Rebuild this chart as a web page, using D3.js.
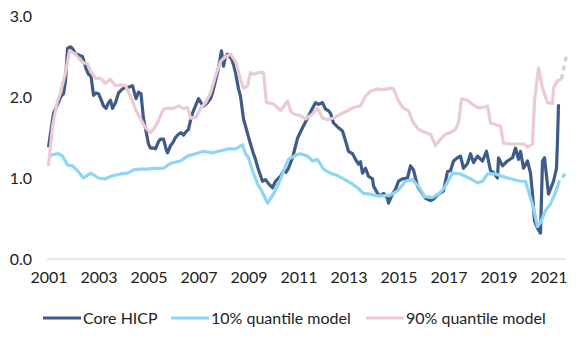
<!DOCTYPE html>
<html>
<head>
<meta charset="utf-8">
<script src="https://cdn.jsdelivr.net/npm/d3@7"></script>
<style>
  html, body { margin: 0; padding: 0; background: #fff; }
  svg { display: block; font-family: Lato, "Open Sans", sans-serif; }
</style>
</head>
<body>
<svg id="chart" width="587" height="346"></svg>
<script>
// ---- data (decimal year, value in %) ----
const coreHICP = [
  [2001.0,1.38],[2001.08,1.55],[2001.2,1.8],[2001.35,1.9],[2001.5,2.01],[2001.6,2.04],[2001.68,2.2],
  [2001.76,2.6],[2001.88,2.62],[2001.96,2.6],[2002.08,2.53],[2002.2,2.52],[2002.36,2.5],[2002.5,2.35],
  [2002.6,2.28],[2002.7,2.26],[2002.8,2.02],[2002.9,2.05],[2003.0,2.04],[2003.1,1.97],[2003.2,1.89],
  [2003.3,1.86],[2003.4,1.93],[2003.48,1.96],[2003.56,1.86],[2003.68,1.93],[2003.8,2.05],[2003.96,2.1],
  [2004.1,2.12],[2004.2,2.12],[2004.36,2.14],[2004.5,1.98],[2004.6,2.06],[2004.7,2.04],[2004.8,1.73],
  [2004.9,1.58],[2005.0,1.42],[2005.08,1.37],[2005.2,1.37],[2005.28,1.36],[2005.4,1.45],[2005.48,1.48],
  [2005.6,1.48],[2005.7,1.36],[2005.76,1.31],[2005.88,1.4],[2005.96,1.43],[2006.08,1.5],[2006.2,1.54],
  [2006.3,1.56],[2006.4,1.53],[2006.5,1.57],[2006.6,1.6],[2006.7,1.74],[2006.76,1.8],[2006.88,1.89],
  [2007.0,1.98],[2007.1,1.93],[2007.2,1.89],[2007.36,1.93],[2007.48,1.98],[2007.56,2.05],[2007.68,2.2],
  [2007.76,2.3],[2007.85,2.45],[2007.92,2.57],[2008.0,2.38],[2008.08,2.5],[2008.16,2.53],[2008.24,2.5],
  [2008.32,2.47],[2008.4,2.4],[2008.48,2.3],[2008.6,2.1],[2008.68,2.01],[2008.8,1.73],[2008.96,1.55],
  [2009.08,1.42],[2009.2,1.3],[2009.28,1.23],[2009.4,1.1],[2009.56,0.96],[2009.68,0.98],[2009.8,0.93],
  [2009.9,0.9],[2009.96,0.88],[2010.08,0.96],[2010.2,1.0],[2010.28,1.02],[2010.4,1.09],[2010.5,1.07],
  [2010.6,1.12],[2010.76,1.25],[2010.96,1.49],[2011.16,1.62],[2011.36,1.74],[2011.56,1.86],[2011.68,1.93],
  [2011.8,1.91],[2011.96,1.93],[2012.08,1.85],[2012.2,1.83],[2012.28,1.8],[2012.4,1.68],[2012.6,1.62],
  [2012.76,1.58],[2012.88,1.46],[2013.0,1.33],[2013.16,1.3],[2013.28,1.23],[2013.4,1.17],[2013.48,1.2],
  [2013.56,1.06],[2013.68,1.12],[2013.8,1.02],[2013.96,0.99],[2014.0,0.9],[2014.16,0.81],[2014.28,0.78],
  [2014.4,0.81],[2014.56,0.75],[2014.6,0.69],[2014.76,0.8],[2014.88,0.86],[2015.0,0.96],[2015.16,0.99],
  [2015.36,1.0],[2015.48,1.15],[2015.6,1.1],[2015.76,0.9],[2015.88,0.84],[2016.08,0.75],[2016.28,0.72],
  [2016.4,0.74],[2016.6,0.8],[2016.8,0.84],[2016.96,1.08],[2017.08,1.09],[2017.2,1.21],[2017.36,1.25],
  [2017.48,1.27],[2017.6,1.12],[2017.76,1.18],[2017.88,1.3],[2018.0,1.19],[2018.16,1.27],[2018.36,1.21],
  [2018.52,1.33],[2018.68,1.09],[2018.8,1.07],[2018.96,1.0],[2019.0,1.25],[2019.16,1.15],[2019.36,1.21],
  [2019.56,1.25],[2019.68,1.37],[2019.8,1.23],[2019.88,1.33],[2020.0,1.12],[2020.16,1.21],[2020.28,1.06],
  [2020.36,0.8],[2020.44,0.47],[2020.56,0.38],[2020.68,0.32],[2020.76,1.21],[2020.84,1.25],[2021.0,0.8],
  [2021.2,0.96],[2021.32,1.12],[2021.36,1.46],[2021.4,1.91]
];

const q10Model = [
  [2001.0,1.27],[2001.2,1.29],[2001.4,1.3],[2001.56,1.27],[2001.76,1.16],[2001.96,1.15],[2002.16,1.09],
  [2002.4,1.0],[2002.68,1.06],[2003.0,1.0],[2003.28,0.99],[2003.48,1.02],[2003.88,1.05],[2004.16,1.06],
  [2004.4,1.1],[2004.68,1.11],[2004.96,1.11],[2005.2,1.12],[2005.6,1.12],[2005.88,1.18],[2006.28,1.21],
  [2006.56,1.27],[2006.88,1.3],[2007.2,1.33],[2007.56,1.31],[2007.8,1.33],[2008.2,1.36],[2008.48,1.36],
  [2008.76,1.41],[2008.88,1.3],[2009.0,1.25],[2009.16,1.09],[2009.36,0.93],[2009.56,0.82],[2009.76,0.69],
  [2010.0,0.8],[2010.28,0.98],[2010.4,1.09],[2010.6,1.23],[2010.88,1.28],[2011.08,1.3],[2011.36,1.27],
  [2011.56,1.21],[2011.76,1.23],[2012.0,1.11],[2012.28,1.06],[2012.56,1.03],[2012.8,0.99],[2013.08,0.94],
  [2013.36,0.88],[2013.6,0.81],[2013.88,0.8],[2014.16,0.78],[2014.4,0.78],[2014.68,0.79],[2014.96,0.84],
  [2015.28,0.96],[2015.56,0.98],[2015.84,0.88],[2016.04,0.77],[2016.36,0.76],[2016.6,0.8],[2016.84,0.88],
  [2017.16,1.06],[2017.48,1.05],[2017.88,0.99],[2018.16,0.94],[2018.36,0.96],[2018.56,1.05],[2018.88,1.05],
  [2019.16,1.02],[2019.48,0.99],[2019.88,0.96],[2020.08,0.96],[2020.2,0.84],[2020.4,0.63],[2020.56,0.4],
  [2020.68,0.45],[2020.88,0.6],[2021.08,0.68],[2021.28,0.82],[2021.44,0.97]
];
const q10Forecast = [[2021.44,0.97],[2021.72,1.07]];

const q90Model = [
  [2001.0,1.15],[2001.16,1.64],[2001.36,1.95],[2001.48,2.05],[2001.68,2.3],[2001.84,2.57],[2001.96,2.55],
  [2002.08,2.53],[2002.2,2.48],[2002.4,2.42],[2002.56,2.41],[2002.68,2.32],[2002.88,2.23],[2003.08,2.23],
  [2003.28,2.17],[2003.48,2.22],[2003.68,2.14],[2003.88,2.15],[2004.08,2.14],[2004.28,2.01],[2004.48,1.85],
  [2004.68,1.73],[2004.88,1.62],[2005.08,1.56],[2005.2,1.6],[2005.36,1.68],[2005.48,1.77],[2005.6,1.85],
  [2005.76,1.86],[2006.0,1.86],[2006.2,1.89],[2006.4,1.86],[2006.56,1.87],[2006.68,1.74],[2006.9,1.75],
  [2007.08,1.86],[2007.28,1.93],[2007.48,2.05],[2007.68,2.26],[2007.88,2.44],[2008.08,2.5],[2008.28,2.53],
  [2008.48,2.44],[2008.68,2.22],[2008.8,2.11],[2008.96,2.14],[2009.08,2.3],[2009.2,2.28],[2009.4,2.3],
  [2009.6,2.3],[2009.72,1.93],[2009.96,1.92],[2010.16,1.87],[2010.28,1.83],[2010.56,1.95],[2010.68,1.83],
  [2010.8,1.79],[2011.08,1.77],[2011.28,1.73],[2011.56,1.79],[2011.76,1.86],[2011.96,1.74],[2012.16,1.72],
  [2012.4,1.74],[2012.68,1.79],[2012.96,1.83],[2013.2,1.87],[2013.48,1.89],[2013.68,2.01],[2013.88,2.07],
  [2014.16,2.1],[2014.36,2.09],[2014.68,2.11],[2014.8,2.1],[2015.0,1.95],[2015.2,1.86],[2015.4,1.83],
  [2015.56,1.7],[2015.8,1.6],[2016.0,1.57],[2016.28,1.54],[2016.48,1.4],[2016.68,1.48],[2016.88,1.54],
  [2017.08,1.56],[2017.28,1.6],[2017.4,1.68],[2017.52,1.98],[2017.76,1.96],[2017.96,1.91],[2018.16,1.87],
  [2018.36,1.87],[2018.56,1.89],[2018.68,1.68],[2018.88,1.66],[2019.08,1.64],[2019.2,1.43],[2019.4,1.42],
  [2019.6,1.42],[2019.88,1.42],[2020.04,1.42],[2020.16,1.38],[2020.36,1.42],[2020.44,1.95],[2020.6,2.36],
  [2020.76,2.11],[2020.96,1.93],[2021.16,1.92],[2021.2,2.11],[2021.36,2.2],[2021.52,2.22]
];
const q90Forecast = [[2021.52,2.22],[2021.72,2.52]];

const xTicks = [2001,2003,2005,2007,2009,2011,2013,2015,2017,2019,2021];
const yTicks = [0,1,2,3];
const seriesNames = ["Core HICP","10% quantile model","90% quantile model"];

// ---- drawing ----
const svg = d3.select("#chart");
const x = d3.scaleLinear().domain([2001, 2021]).range([48.5, 548.5]);
const y = d3.scaleLinear().domain([0, 3]).range([259, 16]);

const colors = { core: "#3f5b87", q10: "#8fd6f6", q90: "#ebcad4", fc: "#cfcfcf" };
const textColor = "#222";

// baseline
svg.append("line")
  .attr("x1", 47).attr("x2", 566)
  .attr("y1", y(0)).attr("y2", y(0))
  .attr("stroke", "#d0d0d0").attr("stroke-width", 1.2);

// y axis labels
const yAxis = d3.axisLeft(y).tickValues(yTicks).tickFormat(d3.format(".1f")).tickSize(0).tickPadding(0);
svg.append("g").attr("transform", "translate(32,0)").call(yAxis)
  .call(g => g.select(".domain").remove())
  .selectAll("text").attr("fill", textColor).style("font-size", "16px")
  .style("font-family", "Lato, 'Open Sans', sans-serif");

// x axis labels
const xAxis = d3.axisBottom(x).tickValues(xTicks).tickFormat(d3.format("d")).tickSize(0).tickPadding(0);
svg.append("g").attr("transform", "translate(0,272)").call(xAxis)
  .call(g => g.select(".domain").remove())
  .selectAll("text").attr("fill", textColor).style("font-size", "16px")
  .style("font-family", "Lato, 'Open Sans', sans-serif");

const line = d3.line().x(d => x(d[0])).y(d => y(d[1])).curve(d3.curveLinear);

svg.append("path").datum(coreHICP).attr("d", line)
  .attr("fill", "none").attr("stroke", colors.core).attr("stroke-width", 3.2).attr("stroke-linejoin", "round");
svg.append("path").datum(q10Model).attr("d", line)
  .attr("fill", "none").attr("stroke", colors.q10).attr("stroke-width", 3.2).attr("stroke-linejoin", "round");
svg.append("path").datum(q10Forecast).attr("d", line)
  .attr("fill", "none").attr("stroke", colors.q10).attr("stroke-width", 3.2)
  .attr("stroke-dasharray", "0,4,5,20");
svg.append("path").datum(q90Model).attr("d", line)
  .attr("fill", "none").attr("stroke", colors.q90).attr("stroke-width", 3.2).attr("stroke-linejoin", "round");
svg.append("path").datum(q90Forecast).attr("d", line)
  .attr("fill", "none").attr("stroke", colors.fc).attr("stroke-width", 3.2)
  .attr("stroke-dasharray", "5,4");

// legend
const legendItems = [
  { name: seriesNames[0], color: colors.core, x: 43 },
  { name: seriesNames[1], color: colors.q10, x: 171 },
  { name: seriesNames[2], color: colors.q90, x: 366 }
];
const lg = svg.append("g").attr("transform", "translate(0,318)");
legendItems.forEach(it => {
  lg.append("line").attr("x1", it.x).attr("x2", it.x + 38).attr("y1", 0).attr("y2", 0)
    .attr("stroke", it.color).attr("stroke-width", 3.2);
  lg.append("text").attr("x", it.x + 40).attr("y", 0).attr("dy", "0.35em")
    .attr("fill", textColor).style("font-size", "16px").text(it.name);
});
</script>
</body>
</html>
